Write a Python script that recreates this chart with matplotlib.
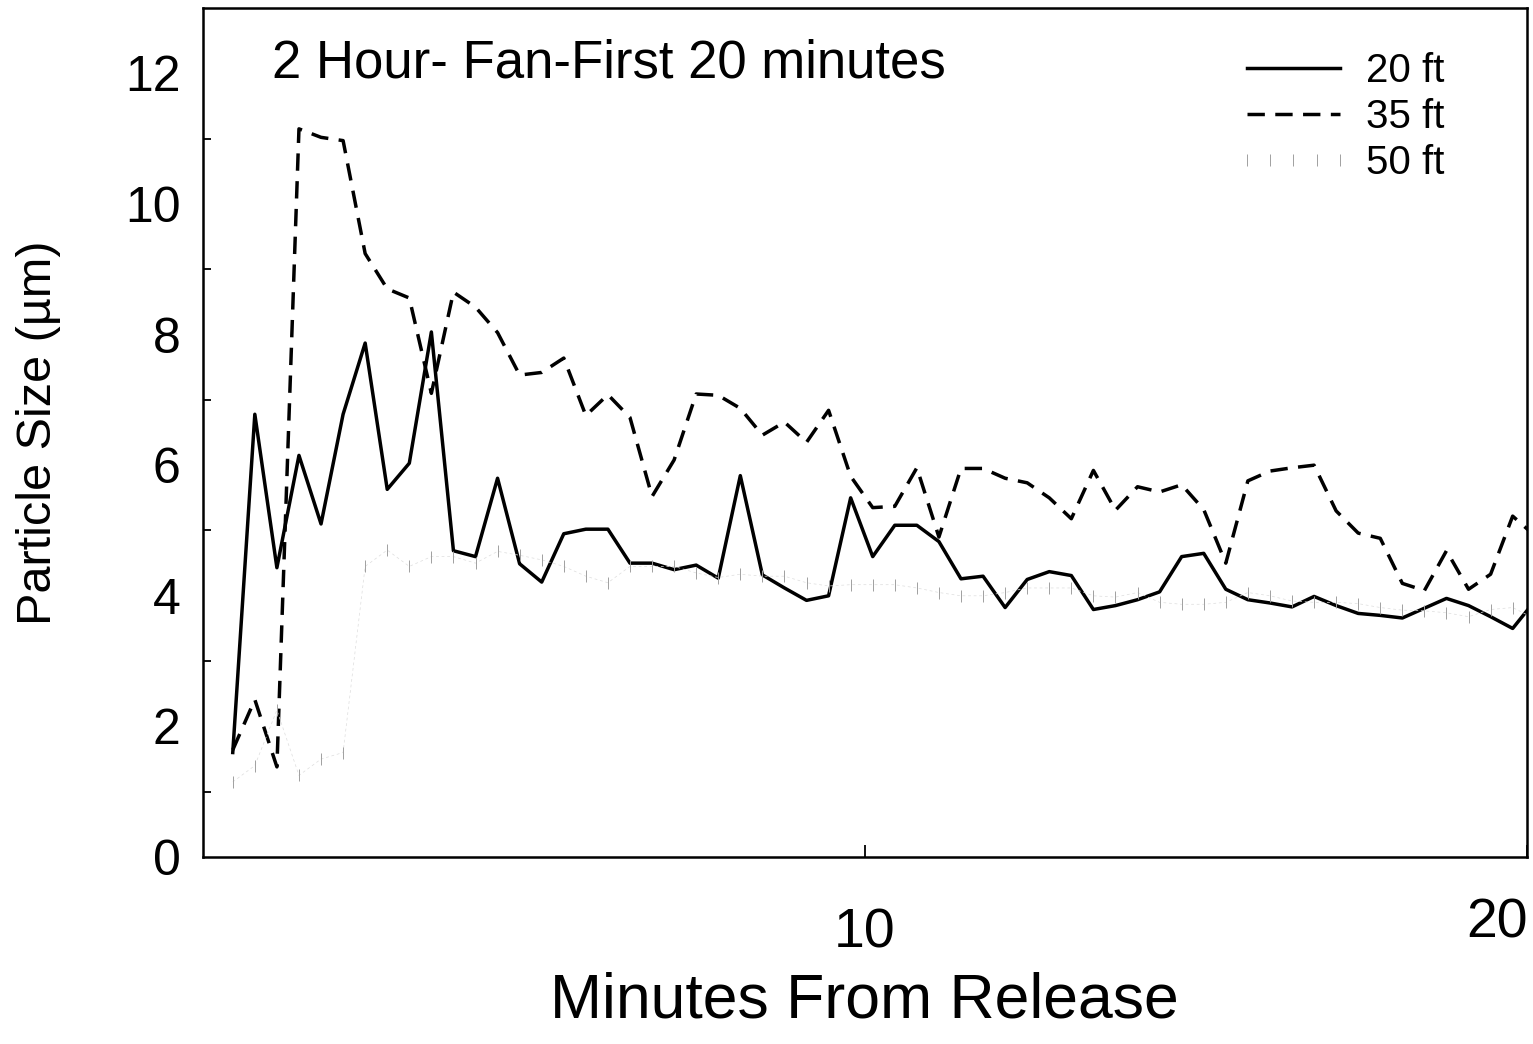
import numpy as np
import matplotlib
matplotlib.use("Agg")
import matplotlib.pyplot as plt
import matplotlib.transforms as mtransforms
from matplotlib.ticker import MultipleLocator, FixedLocator

plt.rcParams['font.family'] = ['Liberation Sans', 'DejaVu Sans']

# sample times: every 20 s starting at 0.45 min
t0 = 0.45
n_pts = 60
minutes = t0 + np.arange(n_pts) / 3.0

ft20 = [1.6, 6.78, 4.43, 6.15, 5.1, 6.78, 7.87, 5.63, 6.03, 8.04,
        4.69, 4.6, 5.8, 4.49, 4.21, 4.95, 5.02, 5.02, 4.5, 4.5,
        4.4, 4.47, 4.27, 5.84, 4.32, 4.12, 3.93, 4.0, 5.5, 4.6,
        5.08, 5.08, 4.83, 4.26, 4.3, 3.82, 4.25, 4.37, 4.31, 3.79,
        3.85, 3.94, 4.06, 4.6, 4.65, 4.1, 3.94, 3.89, 3.83, 3.99,
        3.85, 3.73, 3.7, 3.66, 3.81, 3.96, 3.85, 3.68, 3.5, 3.92]

ft35 = [1.64, 2.41, 1.38, 11.15, 11.02, 10.97, 9.24, 8.7, 8.56, 7.1,
        8.65, 8.42, 8.03, 7.38, 7.42, 7.64, 6.76, 7.08, 6.73, 5.52,
        6.08, 7.09, 7.07, 6.87, 6.46, 6.66, 6.35, 6.84, 5.83, 5.35,
        5.37, 5.96, 4.9, 5.95, 5.95, 5.8, 5.73, 5.5, 5.18, 5.92,
        5.31, 5.67, 5.59, 5.7, 5.32, 4.5, 5.76, 5.91, 5.96, 6.0,
        5.3, 4.96, 4.88, 4.19, 4.08, 4.69, 4.1, 4.33, 5.22, 4.92]

ft50 = [1.15, 1.4, 2.25, 1.25, 1.5, 1.6, 4.45, 4.7, 4.45, 4.6,
        4.6, 4.5, 4.68, 4.62, 4.55, 4.45, 4.3, 4.2, 4.45, 4.45,
        4.45, 4.35, 4.28, 4.33, 4.3, 4.3, 4.2, 4.15, 4.17, 4.17,
        4.17, 4.12, 4.05, 4.0, 4.0, 4.05, 4.12, 4.12, 4.12, 4.0,
        3.98, 4.05, 3.9, 3.87, 3.87, 3.9, 4.05, 4.0, 3.92, 3.9,
        3.9, 3.88, 3.82, 3.78, 3.77, 3.74, 3.68, 3.79, 3.82, 3.65]

fig = plt.figure(figsize=(15.33, 10.44), dpi=100)
ax = fig.add_axes([0.1324, 0.1791, 0.8637, 0.8132])

ax.plot(minutes, ft20, color='black', lw=2.5, label='20 ft')
ax.plot(minutes, ft35, color='black', lw=2.5, dashes=(5.0, 3.0), label='35 ft')
ax.plot(minutes, ft50, color='#dddddd', lw=0.5, dashes=(4, 4))
ax.plot(minutes, ft50, color='#a0a0a0', lw=0, marker='|', ms=8, mew=0.7,
        label='50 ft')

ax.set_xlim(0, 20)
ax.set_ylim(0, 13)

for sp in ax.spines.values():
    sp.set_linewidth(1.8)

ax.yaxis.set_major_locator(MultipleLocator(2))
ax.yaxis.set_minor_locator(FixedLocator([1, 3, 5, 7, 9, 11]))
ax.tick_params(axis='y', which='major', length=0, pad=16, labelsize=36)
ax.tick_params(axis='y', which='minor', direction='in', length=6, width=1.3)

ax.set_xticks([10, 20])
ax.set_xticklabels(['10', '20'])
ax.tick_params(axis='x', direction='in', length=9, width=1.3, pad=36, labelsize=40)
lab20 = ax.get_xticklabels()[1]
offset = mtransforms.ScaledTranslation(-0.30, 0.10, fig.dpi_scale_trans)
lab20.set_transform(lab20.get_transform() + offset)

ax.text(0.052, 0.9187, '2 Hour- Fan-First 20 minutes', transform=ax.transAxes,
        fontsize=38, va='baseline', ha='left')

ax.set_ylabel('Particle Size (\u00b5m)', fontsize=35, labelpad=46)
fig.text(0.5636, 0.025, 'Minutes From Release', fontsize=45,
         ha='center', va='baseline')

ax.legend(loc='upper left', bbox_to_anchor=(0.7795, 0.9486), frameon=False,
          fontsize=29, handlelength=2.9, handletextpad=0.35, labelspacing=0.2,
          borderpad=0, borderaxespad=0, numpoints=5)

fig.savefig('out.png', dpi=100)
